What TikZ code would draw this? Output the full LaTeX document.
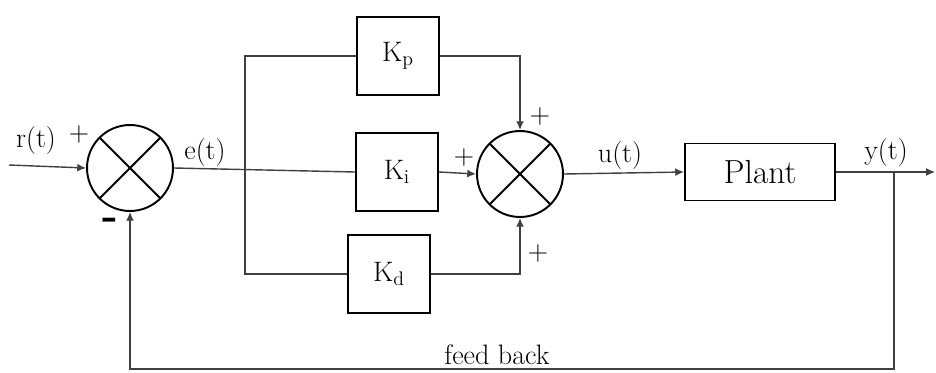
\documentclass[tikz,border=0pt]{standalone}
\usetikzlibrary{arrows.meta}
\begin{document}
\begin{tikzpicture}[x=0.02cm,y=-0.02cm,
    >={Latex[length=5pt,width=4.5pt]},
    wire/.style={draw=black!75,line width=0.8pt},
    lbl/.style={font=\fontsize{16}{18}\selectfont},
    gainbox/.style={draw,line width=1.1pt,minimum width=1.64cm,minimum height=1.56cm,font=\fontsize{16}{18}\selectfont},
    sumnode/.style={circle,draw,line width=1.1pt,minimum size=1.72cm,inner sep=0pt,
      path picture={\draw [line width=1.1pt] (path picture bounding box.north west) -- (path picture bounding box.south east)
        (path picture bounding box.north east) -- (path picture bounding box.south west);}}]
  \useasboundingbox (0,0) rectangle (936,372);
  \node [sumnode] (sum1) at (130,168) {};
  \node [sumnode] (sum2) at (520,174) {};
  \node [gainbox] (Kp) at (398,56) {K\textsubscript{p}};
  \node [gainbox] (Ki) at (397,172) {K\textsubscript{i}};
  \node [gainbox] (Kd) at (389,274) {K\textsubscript{d}};
  \node [draw,line width=1.1pt,minimum width=3cm,minimum height=1.14cm,font=\fontsize{19}{22}\selectfont] (plant) at (760,172) {Plant};
  \node [lbl] (rlbl) at (36,140) {r(t)};
  \node [lbl] (rplus) at (79,134) {+};
  \node [font=\fontsize{24}{24}\selectfont\bfseries] (minus) at (110,224) {-};
  \node [lbl] (elbl) at (205,152) {e(t)};
  \node [lbl] (pplus) at (540,116) {+};
  \node [lbl] (iplus) at (464,157) {+};
  \node [lbl] (dplus) at (538,253) {+};
  \node [lbl] (ulbl) at (620,155) {u(t)};
  \node [lbl] (ylbl) at (886,152) {y(t)};
  \node [lbl] (fblbl) at (497,355) {feed back};
  \coordinate (in) at (9,165);
  \coordinate (br) at (245,169);
  \coordinate (out) at (935,172);
  \coordinate (fb) at (894,172);
  \coordinate (fbd) at (894,369);
  \draw [wire,->] (in) -- (sum1.west);
  \draw [wire] (sum1.east) -- (Ki.west);
  \draw [wire] (Kp.west) -- (Kp.west -| br) -- (Kd.west -| br) -- (Kd.west);
  \draw [wire,->] (Kp.east) -| (sum2.north);
  \draw [wire,->] (Ki.east) -- (sum2.west);
  \draw [wire,->] (Kd.east) -| (sum2.south);
  \draw [wire,->] (sum2.east) -- (plant.west);
  \draw [wire,->] (plant.east) -- (out);
  \draw [wire,->] (fb) -- (fbd) -| (sum1.south);
\end{tikzpicture}
\end{document}
